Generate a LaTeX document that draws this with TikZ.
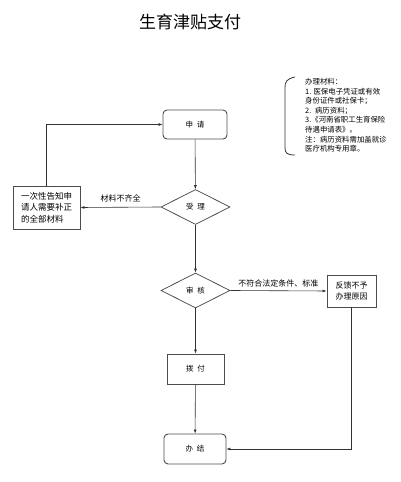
\documentclass[tikz,border=0pt]{standalone}
\usepackage{fontspec}
\setmainfont{Noto Sans CJK SC}
\usetikzlibrary{arrows.meta, shapes.geometric}

\begin{document}
\begin{tikzpicture}[x=1pt, y=1pt,
        box/.style={draw=black!70, line width=0.9pt, inner sep=1pt, font=\fontsize{8}{11}\selectfont},
        rbox/.style={box, rounded corners=4pt},
        judge/.style={draw=black!75, line width=0.7pt, diamond, inner sep=0pt,
            minimum width=69pt, minimum height=35pt, font=\fontsize{7.5}{9}\selectfont},
        line/.style={draw=black!80, line width=0.6pt},
        arrow/.style={line, -{Latex[length=4pt, width=3pt]}},
        note/.style={font=\fontsize{8}{10}\selectfont}]
        \useasboundingbox (0,0) rectangle (400,482);
        %タイトル
        \node[font=\fontsize{17}{20}\selectfont] (title) at (190,460) {生育津贴支付};
        %ノード
        \node[rbox, minimum width=64pt, minimum height=29pt, font=\fontsize{7.5}{9}\selectfont] (shenqing) at (195,357.5) {申\enspace 请};
        \node[judge] (shouli) at (195.5,275) {受\enspace 理};
        \node[box, minimum width=67pt, minimum height=43pt, align=left, font=\fontsize{8.5}{11.5}\selectfont] (gaozhi) at (46.5,274.5) {一次性告知申\\请人需要补正\\的全部材料};
        \node[judge] (shenhe) at (195.5,191.5) {审\enspace 核};
        \node[box, minimum width=49pt, minimum height=32pt, align=center] (fankui) at (351.5,191) {反馈不予\\办理原因};
        \node[box, minimum width=57pt, minimum height=30pt, font=\fontsize{7.5}{9}\selectfont] (bofu) at (195.5,113) {拨\enspace 付};
        \node[rbox, minimum width=62pt, minimum height=30pt, font=\fontsize{7.5}{9}\selectfont] (banjie) at (195,33) {办\enspace 结};
        %矢印
        \draw[arrow] (shenqing) -- (shouli);
        \draw[arrow] (shouli.west) -- node[above=1pt, note] {材料不齐全} (gaozhi.east);
        \draw[arrow] (gaozhi.north) |- (shenqing.west);
        \draw[arrow] (shouli) -- (shenhe);
        \draw[arrow] (shenhe.east) -- node[above=0pt, note] {不符合法定条件、标准} (fankui.west);
        \draw[arrow] (shenhe) -- (bofu);
        \draw[arrow] (bofu) -- (banjie);
        \draw[arrow] (fankui.south) |- (banjie.east);
        %办理材料
        \draw[line, line width=0.8pt] (295,405) .. controls (286,403) and (285,400) .. (285,394)
            -- (285,334) .. controls (285,329) and (287,327) .. (295,327);
        \node[anchor=north west, align=left, inner sep=0pt, font=\fontsize{7.4}{9.6}\selectfont] (cailiao) at (305,404)
            {办理材料：\\1. 医保电子凭证或有效\\身份证件或社保卡；\\2.\enspace 病历资料；\\3.《河南省职工生育保险\\待遇申请表》。\\注：病历资料需加盖就诊\\医疗机构专用章。};
    \end{tikzpicture}
\end{document}
